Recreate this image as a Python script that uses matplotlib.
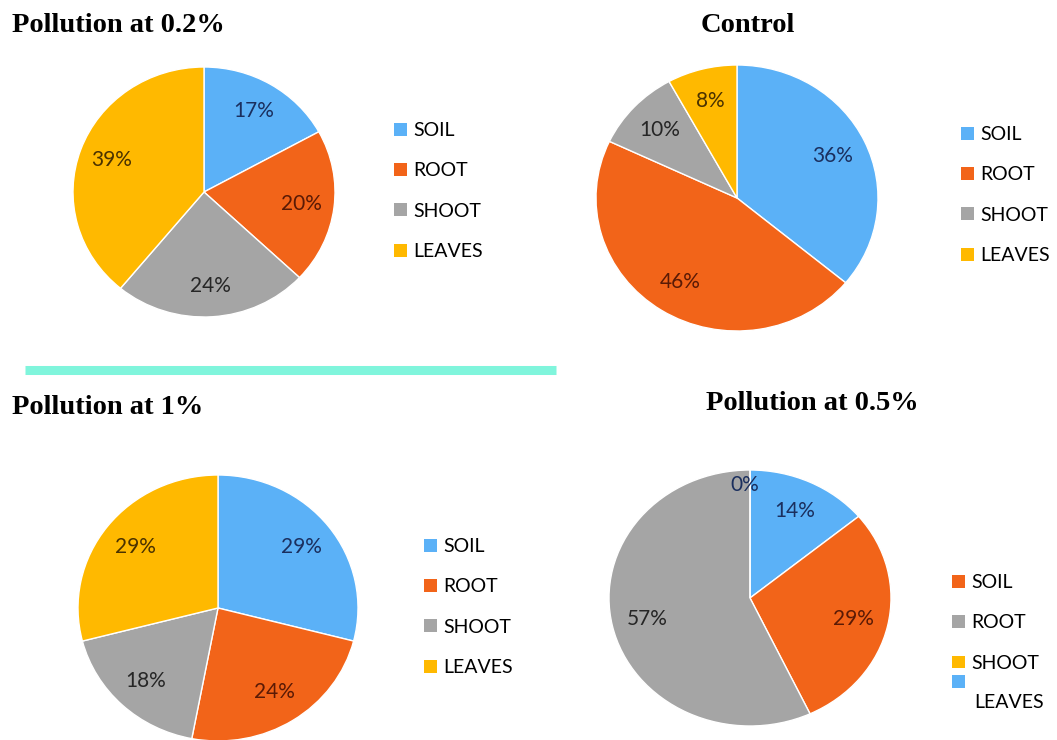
import matplotlib
matplotlib.use("Agg")
import matplotlib.pyplot as plt
from matplotlib.patches import Patch
from matplotlib.lines import Line2D

W, H = 1057, 740

# ---------------- data ----------------
parts = ["SOIL", "ROOT", "SHOOT", "LEAVES"]
vals_02 = [17, 20, 24, 39]
vals_control = [36, 46, 10, 8]
vals_1 = [29, 24, 18, 29]
vals_05 = [14, 29, 57, 0]

colors = ["#5BB1F7", "#F26419", "#A5A5A5", "#FFB900"]
text_colors = ["#1b2f5e", "#5a1a05", "#262626", "#4a3200"]
# the 0.5% chart has a shuffled legend in the original
legend_colors_05 = ["#F26419", "#A5A5A5", "#FFB900", "#5BB1F7"]

plt.rcParams["font.family"] = ["Lato", "DejaVu Sans"]

fig = plt.figure(figsize=(W / 100, H / 100), dpi=100)


def px_rect(cx, cy, rx, ry):
    return [(cx - rx) / W, 1 - (cy + ry) / H, 2 * rx / W, 2 * ry / H]


def draw_pie(rect, values):
    ax = fig.add_axes(rect)
    wedges, texts, autotexts = ax.pie(
        values, colors=colors, startangle=90, counterclock=False,
        autopct=lambda p: f"{p:.0f}%", pctdistance=0.75,
        wedgeprops=dict(edgecolor="white", linewidth=1),
        textprops=dict(fontsize=15))
    for t, c in zip(autotexts, text_colors):
        t.set_color(c)
    ax.set_aspect("auto")
    ax.set_xlim(-1, 1)
    ax.set_ylim(-1, 1)
    return ax, autotexts


def add_legend(ax, x, y, cols, labels):
    handles = [Patch(facecolor=c, edgecolor="none", label=l) for c, l in zip(cols, labels)]
    leg = ax.legend(handles=handles, loc="center left", bbox_to_anchor=(x / W, 1 - y / H),
                    bbox_transform=fig.transFigure, frameon=False, fontsize=14,
                    handlelength=0.65, handleheight=0.65, handletextpad=0.35,
                    labelspacing=1.2, borderpad=0, borderaxespad=0)
    return leg


title_kw = dict(fontsize=20.5, fontweight="bold", family="Liberation Serif", va="center")

# 0.2%
ax1, _ = draw_pie(px_rect(204, 192, 131, 125), vals_02)
add_legend(ax1, 394, 191, colors, parts)
fig.text(12 / W, 1 - 25 / H, "Pollution at 0.2%", ha="left", **title_kw)

# Control
ax2, _ = draw_pie(px_rect(737, 198, 141, 133), vals_control)
add_legend(ax2, 961, 195, colors, parts)
fig.text(748 / W, 1 - 25 / H, "Control", ha="center", **title_kw)

# separator line
fig.add_artist(Line2D([25 / W, 556 / W], [1 - 370 / H, 1 - 370 / H],
                      transform=fig.transFigure, color="#80F5DC", linewidth=6.5,
                      solid_capstyle="butt"))

# 1%
ax3, _ = draw_pie(px_rect(218, 608, 140, 133), vals_1)
add_legend(ax3, 424, 607, colors, parts)
fig.text(12 / W, 1 - 407 / H, "Pollution at 1%", ha="left", **title_kw)

# 0.5%
ax4, at4 = draw_pie(px_rect(750, 598, 141, 128), vals_05)
for t, v in zip(at4, vals_05):
    if v == 0:
        t.set_position((-0.04, 0.88))
        t.set_color("#1b2f5e")
leg_a = add_legend(ax4, 952, 623, legend_colors_05[:3], parts[:3])
ax4.add_artist(leg_a)
# last entry: the label sits on its own line under the marker
add_legend(ax4, 952, 683, legend_colors_05[3:], [""])
fig.text(974 / W, 1 - 703 / H, parts[3], fontsize=14, ha="left", va="center")
fig.text(812 / W, 1 - 404 / H, "Pollution at 0.5%", ha="center", **title_kw)

fig.savefig("out.png", dpi=100)
